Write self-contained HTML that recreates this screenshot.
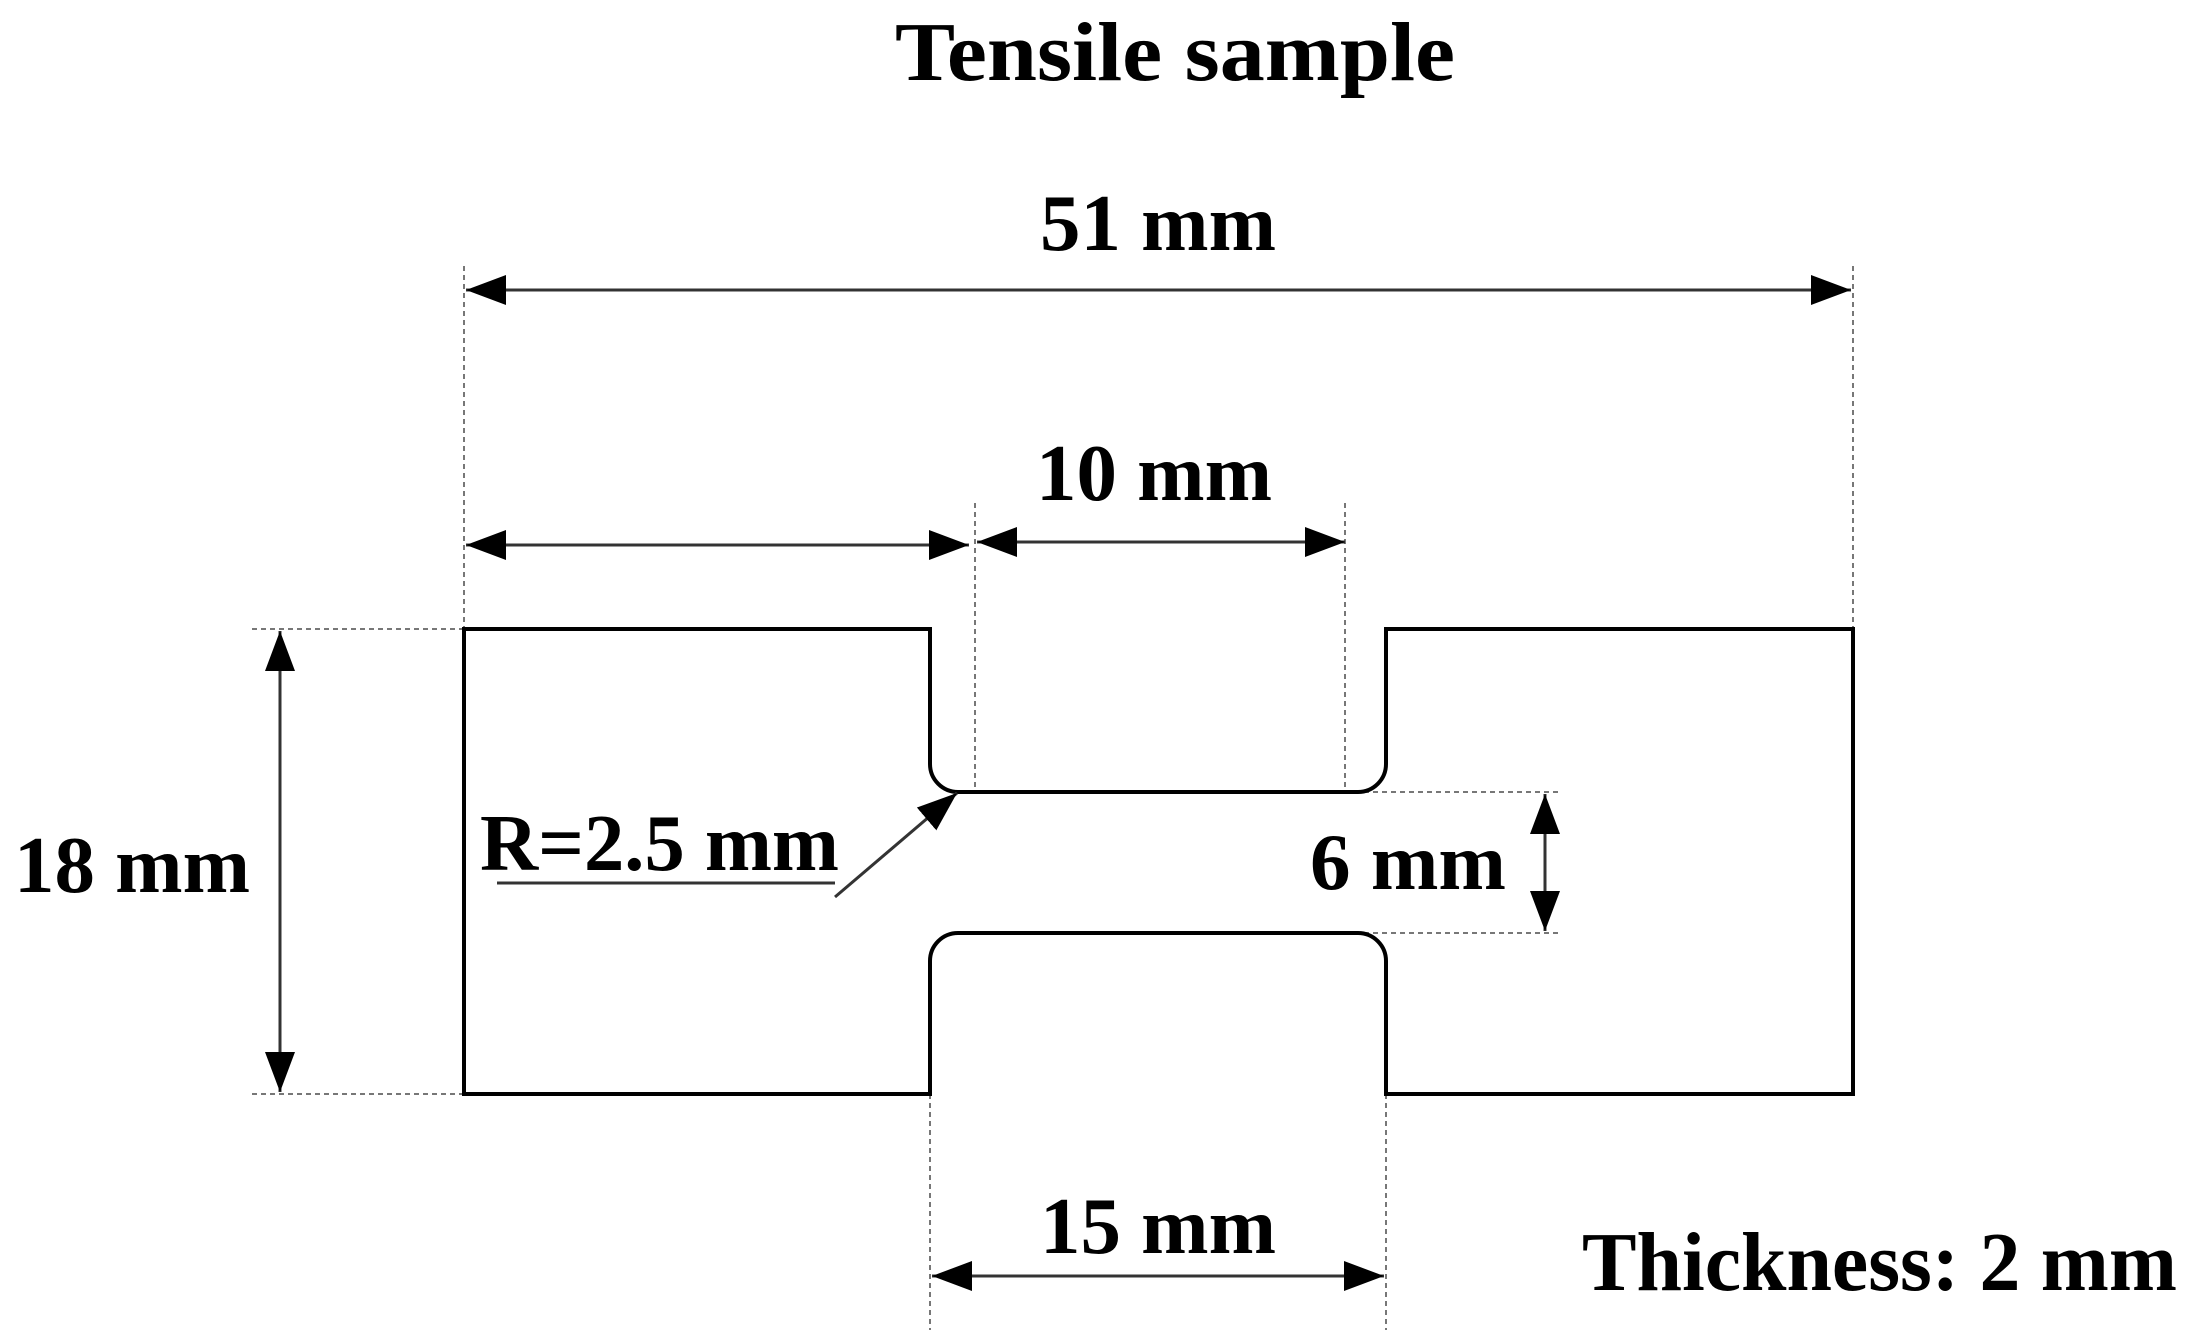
<!DOCTYPE html>
<html><head><meta charset="utf-8"><style>html,body{margin:0;padding:0;background:#fff}svg{display:block}</style></head>
<body>
<svg width="2193" height="1330" viewBox="0 0 2193 1330" xmlns="http://www.w3.org/2000/svg">
<defs>
<marker id="a" viewBox="0 0 10 10" refX="10" refY="5" markerWidth="11" markerHeight="11" markerUnits="userSpaceOnUse" orient="auto-start-reverse"><path d="M0,0 L10,5 L0,10 z" fill="#000"/></marker>
<marker id="b" viewBox="0 0 10 10" refX="10" refY="5" markerWidth="40" markerHeight="30" markerUnits="userSpaceOnUse" orient="auto-start-reverse" preserveAspectRatio="none"><path d="M0,0 L10,5 L0,10 z" fill="#000"/></marker>
</defs>
<g font-family="Liberation Serif, serif" font-weight="bold" fill="#000">
<text x="1175" y="80" font-size="84" text-anchor="middle" textLength="560" lengthAdjust="spacingAndGlyphs">Tensile sample</text>
<text x="1158" y="250" font-size="80" text-anchor="middle" textLength="236" lengthAdjust="spacingAndGlyphs">51 mm</text>
<text x="1154" y="500" font-size="80" text-anchor="middle" textLength="236" lengthAdjust="spacingAndGlyphs">10 mm</text>
<text x="14" y="892" font-size="80" textLength="236" lengthAdjust="spacingAndGlyphs">18 mm</text>
<text x="1310" y="889" font-size="80" textLength="196" lengthAdjust="spacingAndGlyphs">6 mm</text>
<text x="480" y="870" font-size="80" textLength="359" lengthAdjust="spacingAndGlyphs">R=2.5 mm</text>
<text x="1158" y="1253" font-size="80" text-anchor="middle" textLength="236" lengthAdjust="spacingAndGlyphs">15 mm</text>
<text x="1582" y="1290" font-size="84" textLength="595" lengthAdjust="spacingAndGlyphs">Thickness: 2 mm</text>
</g>
<g stroke="#777" stroke-width="2" stroke-dasharray="5,4" fill="none">
<line x1="464" y1="266" x2="464" y2="629"/>
<line x1="1853" y1="266" x2="1853" y2="629"/>
<line x1="975" y1="503" x2="975" y2="792"/>
<line x1="1345" y1="503" x2="1345" y2="792"/>
<line x1="252" y1="629" x2="464" y2="629"/>
<line x1="252" y1="1094" x2="464" y2="1094"/>
<line x1="1364" y1="792" x2="1560" y2="792"/>
<line x1="1364" y1="933" x2="1560" y2="933"/>
<line x1="930" y1="1094" x2="930" y2="1330"/>
<line x1="1386" y1="1094" x2="1386" y2="1330"/>
</g>
<path d="M464,629 H930 V764 A28,28 0 0 0 958,792 H1358 A28,28 0 0 0 1386,764 V629 H1853 V1094 H1386 V961 A28,28 0 0 0 1358,933 H958 A28,28 0 0 0 930,961 V1094 H464 Z" fill="none" stroke="#000" stroke-width="4"/>
<g stroke="#333" stroke-width="3" fill="none">
<line x1="466" y1="290" x2="1851" y2="290" marker-start="url(#b)" marker-end="url(#b)"/>
<line x1="466" y1="545" x2="969" y2="545" marker-start="url(#b)" marker-end="url(#b)"/>
<line x1="977" y1="542" x2="1345" y2="542" marker-start="url(#b)" marker-end="url(#b)"/>
<line x1="280" y1="631" x2="280" y2="1092" marker-start="url(#b)" marker-end="url(#b)"/>
<line x1="1545" y1="794" x2="1545" y2="931" marker-start="url(#b)" marker-end="url(#b)"/>
<line x1="932" y1="1276" x2="1384" y2="1276" marker-start="url(#b)" marker-end="url(#b)"/>
<line x1="497" y1="883" x2="835" y2="883"/>
<line x1="835" y1="897" x2="957" y2="793" marker-end="url(#b)"/>
</g>
</svg>
</body></html>
